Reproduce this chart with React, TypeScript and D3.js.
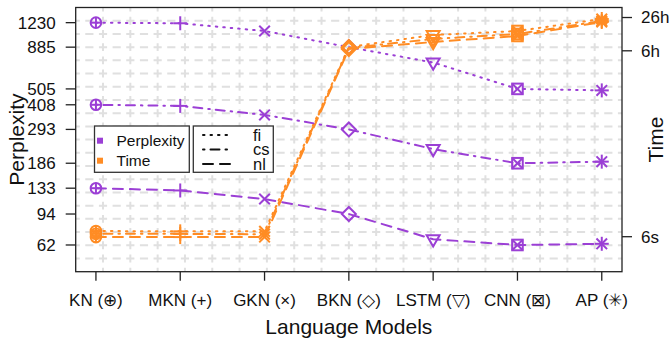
import React from "react";
import * as d3 from "d3";

const models = ["KN", "MKN", "GKN", "BKN", "LSTM", "CNN", "AP"];
const modelLabels = ["KN (⊕)", "MKN (+)", "GKN (×)", "BKN (◇)", "LSTM (▽)", "CNN (⊠)", "AP (✳)"];
const languages = ["fi", "cs", "nl"];

// Perplexity per language (left axis, log)
const pplFi = [1230, 1220, 1100, 885, 720, 505, 495];
const pplCs = [408, 402, 356, 293, 225, 186, 190];
const pplNl = [133, 129, 115, 94, 67, 62, 63];

// Training time in seconds per language (right axis, log)
const timeFi = [7.7, 7.6, 7.6, 25600, 43300, 51700, 87700];
const timeCs = [6.8, 6.8, 6.7, 24500, 36400, 45300, 80300];
const timeNl = [5.9, 5.9, 5.9, 23400, 31800, 41500, 76900];

const pplTicks = [1230, 885, 505, 408, 293, 186, 133, 94, 62];
const timeTicks = [93600, 21600, 6];
const timeTickLabels = ["26h", "6h", "6s"];

const W = 671;
const H = 338;
const L = 75.7, R = 622, T = 7.5, B = 271.7;
const PURPLE = "#9b3fd5";
const ORANGE = "#ff8c24";
const FONT = "'Liberation Sans', Arial, Helvetica, sans-serif";

const dashes: Record<string, string> = {
  fi: "1.5,6",
  cs: "1.5,6,9,6",
  nl: "10,7",
};

function Marker({ i, cx, cy, color }: { i: number; cx: number; cy: number; color: string }) {
  const sw = 2;
  const p: React.ReactNode[] = [];
  const line = (x1: number, y1: number, x2: number, y2: number, k: string) => (
    <line key={k} x1={cx + x1} y1={cy + y1} x2={cx + x2} y2={cy + y2} />
  );
  if (i === 0) {
    const r = 5.3;
    p.push(<circle key="c" cx={cx} cy={cy} r={r} fill="none" />);
    p.push(line(-r, 0, r, 0, "h"), line(0, -r, 0, r, "v"));
  } else if (i === 1) {
    const r = 7;
    p.push(line(-r, 0, r, 0, "h"), line(0, -r, 0, r, "v"));
  } else if (i === 2) {
    const r = 5.3;
    p.push(line(-r, -r, r, r, "a"), line(-r, r, r, -r, "b"));
  } else if (i === 3) {
    const r = 7;
    p.push(<polygon key="d" points={`${cx},${cy - r} ${cx + r},${cy} ${cx},${cy + r} ${cx - r},${cy}`} fill="none" />);
  } else if (i === 4) {
    const w = 6.5;
    p.push(
      <polygon key="t" points={`${cx - w},${cy - 4} ${cx + w},${cy - 4} ${cx},${cy + 7.2}`} fill="none" />
    );
  } else if (i === 5) {
    const r = 5.3;
    p.push(<rect key="s" x={cx - r} y={cy - r} width={2 * r} height={2 * r} fill="none" />);
    p.push(line(-r, -r, r, r, "a"), line(-r, r, r, -r, "b"));
  } else {
    const r = 7, q = 5.3;
    p.push(line(-r, 0, r, 0, "h"), line(0, -r, 0, r, "v"), line(-q, -q, q, q, "a"), line(-q, q, q, -q, "b"));
  }
  return (
    <g stroke={color} strokeWidth={sw} fill="none">
      {p}
    </g>
  );
}

export default function App() {
  const x = d3.scaleLinear().domain([0.76, 7.24]).range([L, R]);
  const yP = d3.scaleLog().domain([43.3, 1508]).range([B, T]);
  const yT = d3.scaleLog().domain([1.284, 145500]).range([B, T]);

  const ppl: Record<string, number[]> = { fi: pplFi, cs: pplCs, nl: pplNl };
  const tim: Record<string, number[]> = { fi: timeFi, cs: timeCs, nl: timeNl };

  const mkLine = (vals: number[], ys: (v: number) => number) =>
    d3
      .line<number>()
      .x((_, i) => x(i + 1))
      .y((v) => ys(v))(vals) || "";

  const gridX = d3.range(1, 20).map((k) => L + (k * (R - L)) / 20);
  const gridY = d3.range(1, 20).map((k) => T + (k * (B - T)) / 20);
  const hStep = (B - T) / 20;
  const vStep = (R - L) / 20;

  return (
    <svg width={W} height={H} style={{ position: "absolute", left: 0, top: 0, background: "#fff" }} fontFamily={FONT}>
      <rect x={0} y={0} width={W} height={H} fill="#fff" />
      {/* grid */}
      <g stroke="#e0e0e0" strokeWidth={2} fill="none">
        {gridX.map((gx, k) => (
          <line key={"gx" + k} x1={gx} x2={gx} y1={T} y2={B} strokeDasharray={`${hStep * 0.6},${hStep * 0.4}`} strokeDashoffset={-hStep * 0.7} />
        ))}
        {gridY.map((gy, k) => (
          <line key={"gy" + k} x1={L} x2={R} y1={gy} y2={gy} strokeDasharray={`${vStep * 0.3},${vStep * 0.2}`} strokeDashoffset={-vStep * 0.35} />
        ))}
      </g>

      {/* series lines */}
      {languages.map((lang) => (
        <g key={"l" + lang}>
          <path d={mkLine(ppl[lang], yP)} fill="none" stroke={PURPLE} strokeWidth={2} strokeDasharray={dashes[lang]} strokeLinecap="round" />
          <path d={mkLine(tim[lang], yT)} fill="none" stroke={ORANGE} strokeWidth={2} strokeDasharray={dashes[lang]} strokeLinecap="round" />
        </g>
      ))}
      {/* markers */}
      {languages.map((lang) => (
        <g key={"m" + lang}>
          {ppl[lang].map((v, i) => (
            <Marker key={"p" + i} i={i} cx={x(i + 1)} cy={yP(v)} color={PURPLE} />
          ))}
          {tim[lang].map((v, i) => (
            <Marker key={"t" + i} i={i} cx={x(i + 1)} cy={yT(v)} color={ORANGE} />
          ))}
        </g>
      ))}

      {/* box */}
      <rect x={L} y={T} width={R - L} height={B - T} fill="none" stroke="#222" strokeWidth={1.3} />

      {/* axes ticks */}
      <g stroke="#222" strokeWidth={1.3}>
        {pplTicks.map((t) => (
          <line key={"lt" + t} x1={L - 10} x2={L} y1={yP(t)} y2={yP(t)} />
        ))}
        {timeTicks.map((t) => (
          <line key={"rt" + t} x1={R} x2={R + 10} y1={yT(t)} y2={yT(t)} />
        ))}
        {models.map((m, i) => (
          <line key={"bt" + m} x1={x(i + 1)} x2={x(i + 1)} y1={B} y2={B + 9} />
        ))}
      </g>
      <g fontSize={17} fill="#111">
        {pplTicks.map((t) => (
          <text key={"ll" + t} x={L - 20} y={yP(t)} dy="0.35em" textAnchor="end">
            {t}
          </text>
        ))}
        {timeTicks.map((t, k) => (
          <text key={"rl" + t} x={R + 19} y={yT(t)} dy="0.35em" textAnchor="start">
            {timeTickLabels[k]}
          </text>
        ))}
        {modelLabels.map((m, i) => (
          <text key={"bl" + m} x={x(i + 1)} y={300} dy="0.35em" textAnchor="middle">
            {m}
          </text>
        ))}
      </g>
      <g fontSize={21} fill="#111">
        <text x={(L + R) / 2} y={327} dy="0.35em" textAnchor="middle">
          Language Models
        </text>
        <text transform={`translate(17,${(T + B) / 2}) rotate(-90)`} dy="0.35em" textAnchor="middle">
          Perplexity
        </text>
        <text transform={`translate(656,${(T + B) / 2}) rotate(-90)`} dy="0.35em" textAnchor="middle">
          Time
        </text>
      </g>

      {/* legend 1 */}
      <g>
        <rect x={94.5} y={126} width={94.8} height={46.3} fill="#fff" stroke="#333" strokeWidth={1.3} />
        <rect x={97} y={137.7} width={6} height={6} fill={PURPLE} />
        <rect x={97} y={157.7} width={6} height={6} fill={ORANGE} />
        <text x={116.5} y={140.7} dy="0.35em" fontSize={15.5} fill="#111">Perplexity</text>
        <text x={116.5} y={160.7} dy="0.35em" fontSize={15.5} fill="#111">Time</text>
      </g>
      {/* legend 2 */}
      <g>
        <rect x={193.3} y={126} width={80} height={46.3} fill="#fff" stroke="#333" strokeWidth={1.3} />
        {languages.map((lang, k) => (
          <g key={"lg" + lang}>
            <line x1={203} x2={231} y1={135 + k * 14.5} y2={135 + k * 14.5} stroke="#111" strokeWidth={2} strokeDasharray={dashes[lang]} strokeLinecap="round" />
            <text x={253} y={135 + k * 14.6} dy="0.35em" fontSize={16.5} fill="#111">
              {lang}
            </text>
          </g>
        ))}
      </g>
    </svg>
  );
}
